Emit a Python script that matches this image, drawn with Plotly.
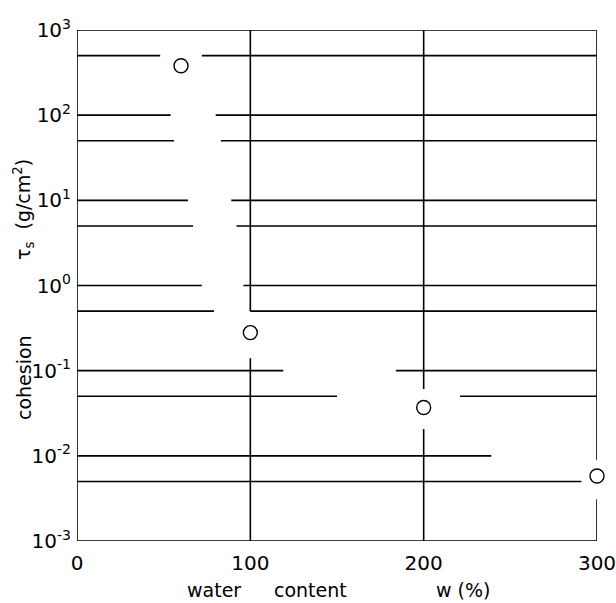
import plotly.graph_objects as go

# ---- data ----
water_content = [60, 100, 200, 300]          # w (%)
cohesion = [380, 0.28, 0.037, 0.0058]        # tau_s (g/cm^2)

x_tick_vals = [0, 100, 200, 300]
x_tick_text = ["0", "100", "200", "300"]
y_tick_vals = [1e-3, 1e-2, 1e-1, 1e0, 1e1, 1e2, 1e3]
y_tick_text = ["10<sup>-3</sup>", "10<sup>-2</sup>", "10<sup>-1</sup>", "10<sup>0</sup>",
               "10<sup>1</sup>", "10<sup>2</sup>", "10<sup>3</sup>"]

# hand-drawn grid: horizontal levels and the x-extents drawn at each level
h_grid_levels = [500, 100, 50, 10, 5, 1, 0.5, 0.1, 0.05, 0.01, 0.005, 1000, 0.001]
h_grid_spans = [
    [(0, 48), (72, 300)],
    [(0, 54), (80, 300)],
    [(0, 56), (83, 300)],
    [(0, 64), (89, 300)],
    [(0, 67), (92, 300)],
    [(0, 72), (96, 300)],
    [(0, 79), (100, 300)],
    [(0, 119), (184, 300)],
    [(0, 150), (221, 300)],
    [(0, 239)],
    [(0, 291)],
    [(0, 300)],
    [(0, 300)],
]
# vertical lines and the y-extents drawn at each
v_grid_levels = [0, 100, 200, 300]
v_grid_spans = [
    [(0.001, 1000)],
    [(0.001, 0.14), (0.5, 1000)],
    [(0.001, 0.0206), (0.061, 1000)],
    [(0.001, 0.0031), (0.009, 1000)],
]

gx, gy = [], []
for lvl, spans in zip(h_grid_levels, h_grid_spans):
    for a, b in spans:
        gx += [a, b, None]
        gy += [lvl, lvl, None]
for lvl, spans in zip(v_grid_levels, v_grid_spans):
    for a, b in spans:
        gx += [lvl, lvl, None]
        gy += [a, b, None]

FONT = "DejaVu Sans"
fig = go.Figure()
fig.add_trace(go.Scatter(x=gx, y=gy, mode="lines", line=dict(color="black", width=1.6),
                         hoverinfo="skip", showlegend=False, cliponaxis=False))
fig.add_trace(go.Scatter(x=water_content, y=cohesion, mode="markers",
                         marker=dict(symbol="circle-open", size=14, color="black",
                                     line=dict(width=1.4, color="black")),
                         showlegend=False, cliponaxis=False))

fig.update_layout(
    width=616, height=603,
    margin=dict(l=77, r=19, t=30, b=62, autoexpand=False),
    paper_bgcolor="white", plot_bgcolor="white",
    font=dict(family=FONT, color="black", size=20),
    xaxis=dict(range=[0, 300], showgrid=False, zeroline=False, showline=False,
               tickvals=x_tick_vals, ticktext=x_tick_text, ticks="",
               ticklabelstandoff=8, ticklabeloverflow="allow", tickfont=dict(size=20)),
    yaxis=dict(type="log", range=[-3, 3], showgrid=False, zeroline=False, showline=False,
               tickvals=y_tick_vals, ticktext=y_tick_text, ticks="",
               ticklabelstandoff=5, ticklabeloverflow="allow", tickfont=dict(size=20)),
)

def px(xp, yp):
    # page pixel -> paper coords (plot area spans 77..597 x, 30..541 y)
    return (xp - 77) / 520, (541 - yp) / 511

for txt, xp, yp, ang in [
    ("water", 214, 590, 0),
    ("content", 310, 590, 0),
    ("w (%)", 463, 590, 0),
    ("cohesion", 24, 378, -90),
    ("τ<sub>s</sub>  (g/cm<sup>2</sup>)", 23, 210, -90),
]:
    ax, ay = px(xp, yp)
    fig.add_annotation(x=ax, y=ay, xref="paper", yref="paper", text=txt, showarrow=False,
                       textangle=ang, font=dict(size=19, family=FONT, color="black"),
                       xanchor="center", yanchor="middle")

fig.write_html(
    "out.html",
    config={"displayModeBar": False},
    post_script="document.body.style.margin='0';document.body.style.overflow='hidden';",
)
